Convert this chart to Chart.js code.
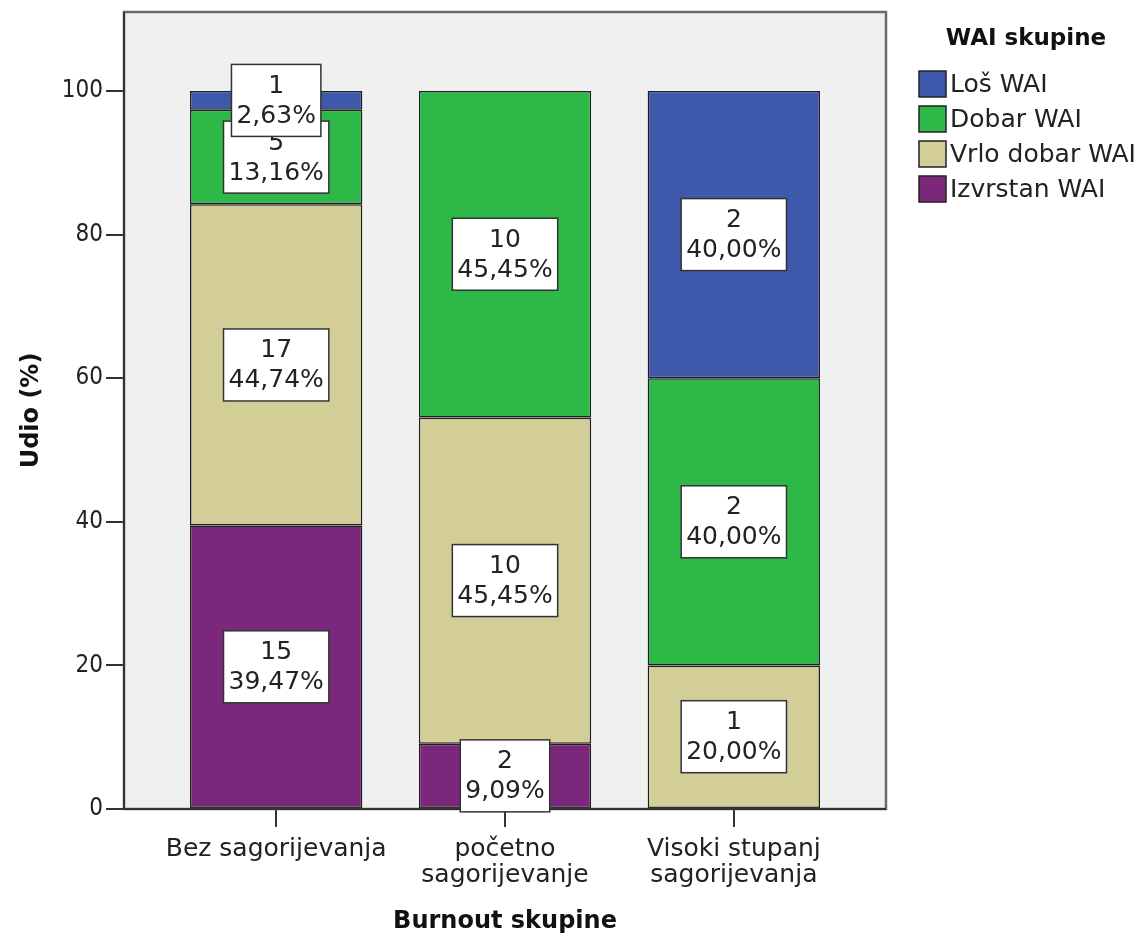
<!DOCTYPE html>
<html>
<head>
<meta charset="utf-8">
<script src="https://cdn.jsdelivr.net/npm/chart.js@4.4.1/dist/chart.umd.min.js"></script>
<style>
  html, body { margin: 0; padding: 0; background: #ffffff; }
  #wrap { width: 1139px; height: 939px; }
</style>
</head>
<body>
<div id="wrap"><canvas id="chart" width="1139" height="939"></canvas></div>
<script>
const categories = ['Bez sagorijevanja', ['početno', 'sagorijevanje'], ['Visoki stupanj', 'sagorijevanja']];
// stack order bottom -> top
const seriesNames = ['Izvrstan WAI', 'Vrlo dobar WAI', 'Dobar WAI', 'Loš WAI'];
const izvrstanCount = [15, 2, 0];
const vrloDobarCount = [17, 10, 1];
const dobarCount = [5, 10, 2];
const losCount = [1, 0, 2];
const izvrstanPct = [39.47, 9.09, 0];
const vrloDobarPct = [44.74, 45.45, 20.00];
const dobarPct = [13.16, 45.45, 40.00];
const losPct = [2.63, 0, 40.00];
const yTicks = [0, 20, 40, 60, 80, 100];

const FONT = "'DejaVu Sans', sans-serif";
const FONT_NUM = "'DejaVu Sans Condensed', 'DejaVu Sans', sans-serif";
const colors = ['#7b287c', '#d3ce97', '#2eb848', '#3e58ac'];
const counts = [izvrstanCount, vrloDobarCount, dobarCount, losCount];
const pcts = [izvrstanPct, vrloDobarPct, dobarPct, losPct];

const datasets = seriesNames.map((name, i) => ({
  label: name,
  data: pcts[i].map((v, j) => ({ x: j, y: v })),
  counts: counts[i],
  backgroundColor: colors[i],
  borderColor: '#1e1e1e',
  borderWidth: 1.5,
  borderSkipped: false,
  barPercentage: 0.753,
  categoryPercentage: 1.0
}));

const fmt = v => v.toFixed(2).replace('.', ',') + '%';

const framePlugin = {
  id: 'frame',
  beforeDatasetsDraw(chart) {
    const { ctx, chartArea: a } = chart;
    ctx.save();
    ctx.fillStyle = '#f0f0f0';
    ctx.fillRect(a.left, a.top, a.right - a.left, a.bottom - a.top);
    ctx.restore();
  },
  afterDatasetsDraw(chart) {
    const { ctx, chartArea: a } = chart;
    ctx.save();
    ctx.strokeStyle = '#6a6a6a';
    ctx.lineWidth = 2.5;
    ctx.strokeRect(a.left, a.top, a.right - a.left, a.bottom - a.top);
    ctx.strokeStyle = '#333333';
    ctx.lineWidth = 2;
    ctx.beginPath();
    ctx.moveTo(a.left, a.top);
    ctx.lineTo(a.left, a.bottom);
    ctx.lineTo(a.right, a.bottom);
    ctx.stroke();

    // value boxes, top segments drawn last
    ctx.font = '25px ' + FONT;
    ctx.textAlign = 'center';
    ctx.textBaseline = 'middle';
    for (let d = 0; d < chart.data.datasets.length; d++) {
      const ds = chart.data.datasets[d];
      chart.getDatasetMeta(d).data.forEach((el, i) => {
        if (!ds.counts[i]) return;
        const cx = el.x;
        const cy = (el.y + el.base) / 2;
        const l1 = String(ds.counts[i]);
        const l2 = fmt(ds.data[i].y);
        const w = Math.max(ctx.measureText(l1).width, ctx.measureText(l2).width) + 10;
        const h = 72;
        ctx.fillStyle = '#ffffff';
        ctx.fillRect(cx - w / 2, cy - h / 2, w, h);
        ctx.strokeStyle = '#333333';
        ctx.lineWidth = 1.5;
        ctx.strokeRect(cx - w / 2, cy - h / 2, w, h);
        ctx.fillStyle = '#222222';
        ctx.fillText(l1, cx, cy - 14);
        ctx.fillText(l2, cx, cy + 16);
      });
    }
    ctx.restore();
  },
  afterDraw(chart) {
    const { ctx, chartArea: a } = chart;
    ctx.save();
    ctx.fillStyle = '#111111';
    ctx.font = 'bold 24px ' + FONT;
    ctx.textAlign = 'center';
    ctx.textBaseline = 'middle';
    ctx.fillText('Burnout skupine', (a.left + a.right) / 2, 922);
    ctx.save();
    ctx.translate(32, (a.top + a.bottom) / 2);
    ctx.rotate(-Math.PI / 2);
    ctx.fillText('Udio (%)', 0, 0);
    ctx.restore();

    // legend
    ctx.font = 'bold 23px ' + FONT;
    ctx.fillText('WAI skupine', 1026, 39);
    ctx.font = '25px ' + FONT;
    ctx.textAlign = 'left';
    const ds = chart.data.datasets;
    for (let k = 0; k < ds.length; k++) {
      const item = ds[ds.length - 1 - k];
      const y = 71 + k * 35;
      ctx.fillStyle = item.backgroundColor;
      ctx.fillRect(919, y, 27, 26);
      ctx.strokeStyle = '#222222';
      ctx.lineWidth = 1.5;
      ctx.strokeRect(919, y, 27, 26);
      ctx.fillStyle = '#222222';
      ctx.fillText(item.label, 950, y + 14);
    }
    ctx.restore();
  }
};

new Chart(document.getElementById('chart'), {
  type: 'bar',
  data: { datasets },
  options: {
    responsive: false,
    animation: false,
    layout: { padding: { left: 0, right: 253, top: 12, bottom: 0 } },
    plugins: { legend: { display: false }, tooltip: { enabled: false } },
    scales: {
      x: {
        type: 'linear',
        stacked: true,
        min: -0.665,
        max: 2.665,
        offset: false,
        afterBuildTicks(scale) { scale.ticks = categories.map((c, i) => ({ value: i })); },
        grid: { display: true, offset: false, drawOnChartArea: false, tickLength: 18, color: '#333333', lineWidth: 2 },
        border: { display: false },
        ticks: {
          color: '#222222',
          font: { family: FONT, size: 25, lineHeight: 1.02 },
          padding: 10,
          maxRotation: 0,
          autoSkip: false,
          callback: v => categories[v]
        },
        afterFit(scale) { scale.height = 130; scale.paddingLeft = 0; scale.paddingRight = 0; }
      },
      y: {
        stacked: true,
        min: 0,
        max: 111,
        afterBuildTicks(scale) { scale.ticks = yTicks.map(v => ({ value: v })); },
        grid: { display: true, drawOnChartArea: false, tickLength: 18, color: '#333333', lineWidth: 2 },
        border: { display: false },
        ticks: { color: '#222222', font: { family: FONT_NUM, size: 24 }, padding: 3 },
        afterFit(scale) { scale.width = 124; scale.paddingTop = 0; scale.paddingBottom = 0; }
      }
    }
  },
  plugins: [framePlugin]
});
</script>
</body>
</html>
